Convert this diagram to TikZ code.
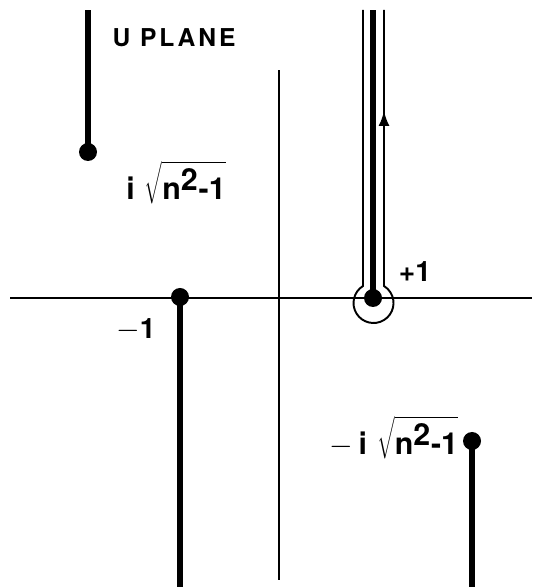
\documentclass[tikz,border=0pt]{standalone}
\usepackage{fontspec}
\setmainfont{TeX Gyre Heros}
\usetikzlibrary{arrows.meta,positioning}

\newcommand{\rootlabel}{\textbf{i}\,\,$\sqrt{\textbf{n}^{\textbf{2}}\textbf{-1}}$}

\begin{document}
\begin{tikzpicture}[x=0.02cm, y=0.02cm,
    thin line/.style={line width=1.1pt},
    cut/.style={line width=3.4pt},
    dot/.style={circle, fill, inner sep=0pt, minimum size=0.36cm},
    lbl/.style={font=\bfseries\fontsize{16}{19}\selectfont},
    titlelbl/.style={font=\bfseries\fontsize{14}{17}\selectfont\addfontfeature{LetterSpace=12}},
    rootlbl/.style={font=\bfseries\LARGE}]
                \useasboundingbox (0,0) rectangle (532,587);

                % Axes
                \coordinate (xl) at (10,289);
                \coordinate (xr) at (532,289);
                \coordinate (yb) at (279,7);
                \coordinate (yt) at (279,517);
                \draw[thin line] (xl) -- (xr);
                \draw[thin line] (yb) -- (yt);

                % Branch points
                \node[dot] (m1) at (180,290) {};
                \node[dot] (p1) at (373,289) {};
                \node[dot] (pi) at (88,435) {};
                \node[dot] (mi) at (472,146) {};

                % Cuts
                \coordinate (m1end) at (180,0);
                \coordinate (p1end) at (373,577);
                \coordinate (piend) at (88,577);
                \coordinate (miend) at (472,0);
                \draw[cut] (m1.center) -- (m1end);
                \draw[cut] (p1.center) -- (p1end);
                \draw[cut] (pi.center) -- (piend);
                \draw[cut] (mi.center) -- (miend);

                % Keyhole contour
                \coordinate (kl) at (363,577);
                \coordinate (kr) at (384,577);
                \draw[thin line] (kl) -- (363,301)
                    arc[start angle=121.7, end angle=418.3, radius=20] -- (kr);
                \draw[thin line, -{Latex[length=3mm,width=2.2mm]}] (384,440) -- (384,476);

                % Labels
                \node[titlelbl] (title) at (174,549) {U PLANE};
                \node[rootlbl] (lpi) at (176,404) {\rootlabel};
                \node[lbl] (lp1) at (415,315) {+1};
                \node[lbl] (lm1) at (136,257) {$-$1};
                \node[rootlbl] (lmi) at (394,149) {$-$\,\rootlabel};
            \end{tikzpicture}
\end{document}
